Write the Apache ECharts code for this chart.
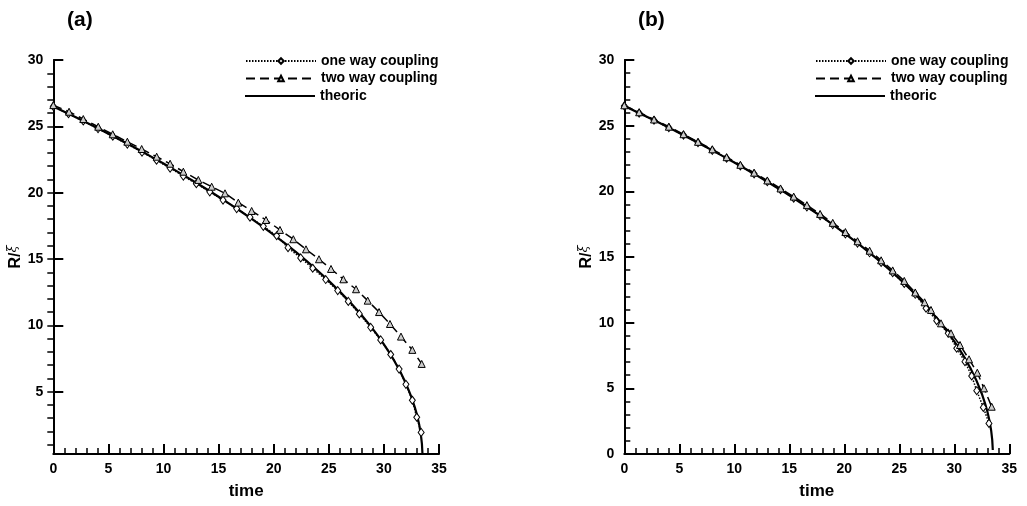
<!DOCTYPE html>
<html>
<head>
<meta charset="utf-8">
<script src="https://cdn.jsdelivr.net/npm/echarts@6/dist/echarts.min.js"></script>
<style>
html,body{margin:0;padding:0;background:#fff;}
#c{width:1027px;height:506px;}
</style>
</head>
<body>
<div id="c"></div>
<script>
// ---------- data ----------
var panelTitles = ['(a)', '(b)'];
var seriesNames = ['one way coupling', 'two way coupling', 'theoric'];
var xTicks = [0, 5, 10, 15, 20, 25, 30, 35];
var yTicksA = [5, 10, 15, 20, 25, 30];
var yTicksB = [0, 5, 10, 15, 20, 25, 30];

// theoretical curve (shared by both panels)
var theoT = [0,1,2,3,4,5,6,7,8,9,10,11,12,13,14,15,16,17,18,19,20,21,22,23,24,25,26,27,28,28.5,29,29.5,30,30.5,31,31.5,32,32.5,32.8,33,33.2,33.35,33.45,33.5];
var theoR = [26.5,26.1,25.7,25.29,24.87,24.44,24.01,23.57,23.12,22.66,22.2,21.72,21.23,20.73,20.22,19.69,19.15,18.6,18.03,17.44,16.82,16.19,15.53,14.84,14.11,13.35,12.54,11.68,10.74,10.24,9.72,9.16,8.57,7.94,7.24,6.48,5.62,4.59,3.84,3.25,2.53,1.79,1.06,0.3];

// panel (a)
var aOneT = [0,1.38,2.72,4.06,5.4,6.72,8.05,9.37,10.6,11.8,12.98,14.2,15.4,16.64,17.85,19.06,20.27,21.3,22.45,23.54,24.72,25.81,26.77,27.77,28.8,29.71,30.62,31.38,32.0,32.58,32.98,33.38];
var aOneR = [26.5,25.95,25.4,24.83,24.25,23.66,23.06,22.45,21.85,21.25,20.68,20.06,19.44,18.8,18.15,17.46,16.75,15.85,15.08,14.3,13.45,12.62,11.8,10.86,9.85,8.9,7.8,6.7,5.55,4.35,3.07,1.93];
var aTwoT = [0,1.43,2.72,4.08,5.39,6.72,8.02,9.38,10.6,11.8,13.16,14.37,15.58,16.79,18.0,19.3,20.57,21.78,22.93,24.11,25.2,26.32,27.47,28.53,29.56,30.55,31.55,32.58,33.43];
var aTwoR = [26.6,26.1,25.55,24.97,24.4,23.84,23.29,22.71,22.18,21.58,20.96,20.45,19.95,19.25,18.62,17.94,17.19,16.49,15.73,14.98,14.25,13.47,12.72,11.86,11.0,10.1,9.15,8.15,7.09];

// panel (b)
var bOneT = [0,1.35,2.7,4.05,5.38,6.7,8.0,9.3,10.55,11.8,13.0,14.2,15.4,16.6,17.8,18.95,20.1,21.2,22.3,23.35,24.4,25.45,26.45,27.43,28.4,29.45,30.22,30.97,31.58,32.04,32.64,33.15];
var bOneR = [26.5,25.96,25.41,24.85,24.28,23.7,23.12,22.52,21.93,21.33,20.73,20.12,19.48,18.82,18.14,17.47,16.76,16.06,15.32,14.59,13.81,12.99,12.16,11.1,10.15,9.19,8.05,7.03,5.94,4.82,3.55,2.33];
var bTwoT = [0,1.35,2.7,4.05,5.38,6.7,8.0,9.3,10.55,11.8,13.0,14.2,15.4,16.6,17.8,18.95,20.1,21.2,22.3,23.35,24.4,25.45,26.45,27.3,27.88,28.79,29.7,30.52,31.34,32.09,32.7,33.4];
var bTwoR = [26.55,26.02,25.47,24.92,24.35,23.77,23.2,22.6,22.02,21.42,20.83,20.22,19.6,18.95,18.28,17.6,16.9,16.2,15.48,14.75,13.98,13.18,12.3,11.55,10.97,9.95,9.19,8.3,7.21,6.19,5.0,3.6];

// ---------- helpers ----------
function zip(t, r) { return t.map(function (v, i) { return [v, r[i]]; }); }
function range(a, b) { var o = []; for (var i = a; i <= b; i++) o.push(i); return o; }

var FONT = "'Liberation Sans', Arial, Helvetica, sans-serif";
var lbl = { color: '#000', fontFamily: FONT, fontWeight: 'bold', fontSize: 14 };
var axLine = { show: true, onZero: false, lineStyle: { color: '#000', width: 2 } };

var grids = [
  { left: 53.3, top: 60, width: 385.7, height: 394 },
  { left: 624.3, top: 60, width: 385, height: 394 }
];

function xAxisFor(g) {
  return {
    type: 'value', gridIndex: g, min: 0, max: 35, interval: 5,
    axisLine: axLine,
    axisTick: { show: true, inside: true, length: 10, lineStyle: { color: '#000', width: 2 } },
    minorTick: { show: true, splitNumber: 5, length: 6, lineStyle: { color: '#000', width: 1.5 } },
    axisLabel: Object.assign({ margin: 8, customValues: xTicks }, lbl),
    splitLine: { show: false },
    name: 'time', nameLocation: 'middle', nameGap: 29,
    nameTextStyle: { color: '#000', fontFamily: FONT, fontWeight: 'bold', fontSize: 17 }
  };
}

var yName = {
  name: '{r|R/}{x|ξ}', nameLocation: 'middle', nameRotate: 90,
  nameTextStyle: {
    rich: {
      r: { color: '#000', fontFamily: FONT, fontWeight: 'bold', fontSize: 16 },
      x: { color: '#000', fontFamily: "'DejaVu Serif', serif", fontStyle: 'italic', fontSize: 13, padding: [0, 0, 6, 0] }
    }
  }
};

var yAxes = [
  Object.assign({
    type: 'value', gridIndex: 0, min: 0.3, max: 30,
    axisLine: axLine,
    axisTick: { show: true, inside: true, length: 10, customValues: yTicksA, lineStyle: { color: '#000', width: 2 } },
    axisLabel: Object.assign({ margin: 10, customValues: yTicksA }, lbl),
    splitLine: { show: false }, nameGap: 26
  }, yName),
  {
    type: 'value', gridIndex: 0, min: 0.3, max: 30,
    axisLine: { show: false },
    axisTick: { show: true, inside: true, length: 6, customValues: range(1, 29), lineStyle: { color: '#000', width: 1.5 } },
    axisLabel: { show: false }, splitLine: { show: false }
  },
  Object.assign({
    type: 'value', gridIndex: 1, min: 0, max: 30, interval: 5,
    axisLine: axLine,
    axisTick: { show: true, inside: true, length: 10, lineStyle: { color: '#000', width: 2 } },
    minorTick: { show: true, splitNumber: 5, length: 6, lineStyle: { color: '#000', width: 1.5 } },
    axisLabel: Object.assign({ margin: 10, customValues: yTicksB }, lbl),
    splitLine: { show: false }, nameGap: 26
  }, yName)
];

function oneWay(xi, yi, data) {
  return {
    name: seriesNames[0], type: 'line', xAxisIndex: xi, yAxisIndex: yi, data: data,
    symbol: 'diamond', symbolSize: [6, 8], showAllSymbol: true,
    lineStyle: { color: '#000', width: 1.5, type: [1.5, 1.5] },
    itemStyle: { color: '#fff', borderColor: '#000', borderWidth: 1 },
    z: 3, animation: false
  };
}
function twoWay(xi, yi, data) {
  return {
    name: seriesNames[1], type: 'line', xAxisIndex: xi, yAxisIndex: yi, data: data,
    symbol: 'triangle', symbolSize: [7, 7], showAllSymbol: true,
    lineStyle: { color: '#000', width: 1.5, type: [9, 5] },
    itemStyle: { color: '#ccc', borderColor: '#000', borderWidth: 1 },
    z: 4, animation: false
  };
}
function theo(xi, yi) {
  return {
    name: seriesNames[2], type: 'line', xAxisIndex: xi, yAxisIndex: yi, data: zip(theoT, theoR),
    symbol: 'none', lineStyle: { color: '#000', width: 2.2 }, itemStyle: { color: '#000' },
    z: 2, animation: false
  };
}

var legendText = { color: '#000', fontFamily: FONT, fontWeight: 'bold', fontSize: 14, lineHeight: 14 };
function legendsFor(left) {
  return [
    {
      left: left, top: 49, orient: 'vertical', itemWidth: 70, itemHeight: 7, itemGap: 3.5,
      data: [{ name: seriesNames[0] }, { name: seriesNames[1] }],
      selectedMode: false, textStyle: legendText
    },
    {
      left: left, top: 84, orient: 'vertical', itemWidth: 70, itemHeight: 2.2, itemGap: 3.5,
      data: [{ name: seriesNames[2], icon: 'rect', itemStyle: { color: '#000' } }],
      selectedMode: false, textStyle: legendText
    }
  ];
}

var option = {
  backgroundColor: '#fff',
  animation: false,
  title: [
    { text: panelTitles[0], left: 62, top: 5, textStyle: { color: '#000', fontFamily: FONT, fontWeight: 'bold', fontSize: 21 } },
    { text: panelTitles[1], left: 633, top: 5, textStyle: { color: '#000', fontFamily: FONT, fontWeight: 'bold', fontSize: 21 } }
  ],
  legend: legendsFor(240).concat(legendsFor(810)),
  grid: grids,
  xAxis: [xAxisFor(0), xAxisFor(1)],
  yAxis: yAxes,
  series: [
    theo(0, 0),
    oneWay(0, 0, zip(aOneT, aOneR)),
    twoWay(0, 0, zip(aTwoT, aTwoR)),
    theo(1, 2),
    oneWay(1, 2, zip(bOneT, bOneR)),
    twoWay(1, 2, zip(bTwoT, bTwoR))
  ]
};

var chart = echarts.init(document.getElementById('c'), null, { renderer: 'canvas' });
chart.setOption(option);
</script>
</body>
</html>
